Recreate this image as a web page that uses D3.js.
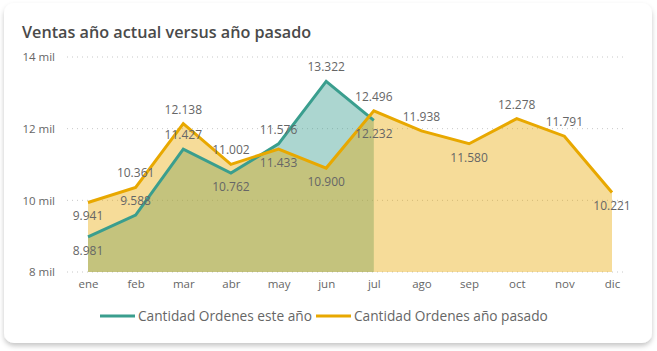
<!DOCTYPE html>
<html><head><meta charset="utf-8">
<script src="https://cdn.jsdelivr.net/npm/d3@7"></script>
<style>
html,body{margin:0;padding:0;background:#fff;}
svg{display:block;}
</style></head>
<body>
<svg id="chart" width="657" height="351"></svg>
<script>
const months = ["ene","feb","mar","abr","may","jun","jul","ago","sep","oct","nov","dic"];
const esteAno = [8981, 9588, 11427, 10762, 11576, 13322, 12232];
const anoPasado = [9941, 10361, 12138, 11002, 11433, 10900, 12496, 11938, 11580, 12278, 11791, 10221];
const esteAnoLabelSide = ["below","above","above","below","above","above","below"];
const anoPasadoLabelSide = ["below","above","above","above","below","below","above","above","below","above","above","below"];
const yTicks = [8000, 10000, 12000, 14000];
const seriesNames = ["Cantidad Ordenes este año", "Cantidad Ordenes año pasado"];

const svg = d3.select("#chart");
const font = "'Open Sans', 'Noto Sans', sans-serif";
const teal = "#3A9E8E", yellow = "#E8A800";

// card
const defs = svg.append("defs");
const f = defs.append("filter").attr("id","sh").attr("x","-5%").attr("y","-5%").attr("width","110%").attr("height","115%");
f.append("feDropShadow").attr("dx",0).attr("dy",3).attr("stdDeviation",2.5).attr("flood-color","#000").attr("flood-opacity",0.22);
svg.append("rect").attr("x",4).attr("y",3).attr("width",648).attr("height",340).attr("rx",10)
  .attr("fill","#fff").attr("filter","url(#sh)");

svg.append("text").attr("x",22).attr("y",38).text("Ventas año actual versus año pasado")
  .attr("font-family",font).attr("font-size",16.2).attr("font-weight",600).attr("fill","#4a4a4a");

const x = d3.scalePoint().domain(months).range([88, 612]);
const y = d3.scaleLinear().domain([8000, 14000]).range([272, 57]);

// grid
const g = svg.append("g");
g.selectAll("line.grid").data(yTicks).join("line")
  .attr("x1",67).attr("x2",625).attr("y1",d=>y(d)).attr("y2",d=>y(d))
  .attr("stroke","#c8c8c8").attr("stroke-width",1).attr("stroke-dasharray","1,4");

const yAxis = d3.axisLeft(y).tickValues(yTicks).tickSize(0).tickFormat(d=>(d/1000)+" mil");
const ya = svg.append("g").attr("transform","translate(58,0)").call(yAxis);
ya.select(".domain").remove();
ya.selectAll("text").attr("font-family",font).attr("font-size",11.5).attr("fill","#666").attr("dx",0);

const xAxis = d3.axisBottom(x).tickSize(0);
const xa = svg.append("g").attr("transform","translate(0,277)").call(xAxis);
xa.select(".domain").remove();
xa.selectAll("text").attr("font-family",font).attr("font-size",11.5).attr("fill","#666");

const area = d3.area().x((d,i)=>x(months[i])).y0(y(8000)).y1(d=>y(d));
const line = d3.line().x((d,i)=>x(months[i])).y(d=>y(d));

svg.append("path").datum(esteAno).attr("d",area).attr("fill",teal).attr("fill-opacity",0.42);
svg.append("path").datum(anoPasado).attr("d",area).attr("fill",yellow).attr("fill-opacity",0.4);
svg.append("path").datum(esteAno).attr("d",line).attr("fill","none").attr("stroke",teal).attr("stroke-width",3).attr("stroke-linejoin","miter");
svg.append("path").datum(anoPasado).attr("d",line).attr("fill","none").attr("stroke",yellow).attr("stroke-width",3).attr("stroke-linejoin","miter");

const fmt = d3.formatLocale({decimal:",",thousands:".",grouping:[3],currency:["",""]}).format(",d");
function labels(data, sides){
  svg.append("g").selectAll("text").data(data).join("text")
    .attr("x",(d,i)=>x(months[i]))
    .attr("y",(d,i)=>y(d) + (sides[i]==="above" ? -10 : 18))
    .attr("text-anchor","middle")
    .attr("font-family",font).attr("font-size",12).attr("fill","#666")
    .text(d=>fmt(d));
}
labels(esteAno, esteAnoLabelSide);
labels(anoPasado, anoPasadoLabelSide);

// legend
const lg = svg.append("g");
const legendItems = [{name:seriesNames[0], color:teal, x:100},{name:seriesNames[1], color:yellow, x:316}];
legendItems.forEach(it=>{
  lg.append("line").attr("x1",it.x).attr("x2",it.x+35).attr("y1",316).attr("y2",316).attr("stroke",it.color).attr("stroke-width",3);
  lg.append("text").attr("x",it.x+38).attr("y",320.5).text(it.name)
    .attr("font-family",font).attr("font-size",13.7).attr("fill","#666");
});
</script>
</body></html>
